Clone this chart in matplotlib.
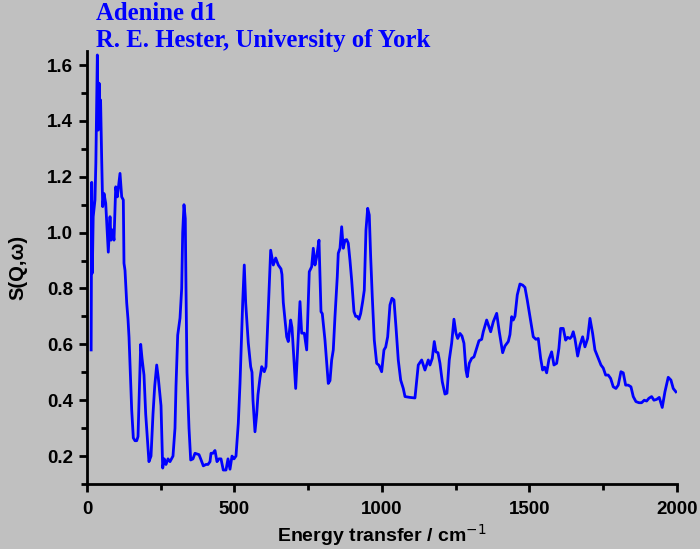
import matplotlib
matplotlib.use('Agg')
import matplotlib.pyplot as plt
from matplotlib.ticker import MultipleLocator

# energy transfer (cm-1) and S(Q,w)
energy = [14, 16, 18, 21, 27, 30, 35, 38, 41, 44, 46, 49.8, 53.2, 57.6, 63.4, 68.8,
          72.2, 78, 81.4, 87.1, 91.5, 97.3, 102.7, 111.9, 117.6, 123.1, 125.4,
          128.8, 134.6, 139, 142.4, 151.5, 157, 162.7, 168.5, 172.9, 182, 186.5,
          193.2, 199, 210, 217, 223.7, 229.5, 236.3, 241.7, 250.9, 256.6, 262,
          267.8, 274.6, 281.4, 291.5, 298.3, 301.7, 307.5, 315.3, 321, 324.4,
          328.8, 333.2, 335.6, 339, 345.8, 351.5, 359.3, 366.1, 379.7, 385.4,
          394.3, 403.4, 410.2, 417, 420.4, 427.1, 433.9, 440.7, 447.5, 454.3,
          462, 471.2, 478, 484.8, 491.6, 498.3, 505.1, 512.9, 518.7, 527.8,
          533.2, 538, 546.8, 554.9, 559.4, 562.7, 569.5, 575.3, 579.7, 586.5,
          592.3, 601.1, 606.8, 613.6, 622.7, 631.6, 639.7, 648.5, 657.7, 661,
          665.5, 677, 682.4, 690.5, 695, 707.5, 722.1, 727.8, 736.6, 744.8,
          753.6, 761.7, 767.2, 772.9, 778.7, 786.5, 793.3, 797.7, 806.8, 818,
          823.8, 829.5, 835, 840.7, 848.5, 851.9, 857.7, 863.4, 868.9, 874.6,
          880.4, 885.8, 891.6, 897.3, 905.1, 910.9, 916.3, 922.1, 927.8, 934.6,
          940.1, 945.8, 951.6, 957, 961.7, 967.2, 974, 982.1, 990, 999, 1006.8,
          1012.6, 1019.4, 1027.2, 1034, 1040.7, 1047.5, 1055.3, 1063.5, 1072.3,
          1078.1, 1094.9, 1111.9, 1123.1, 1134.7, 1145.8, 1157, 1162.8, 1170.6,
          1177.4, 1183.1, 1190, 1196.7, 1204.5, 1213.6, 1220.4, 1228.2, 1236.3,
          1244.1, 1250.9, 1256.7, 1264.5, 1271.2, 1278, 1284.8, 1289.2, 1296,
          1304.2, 1312, 1321.1, 1328.9, 1338.1, 1343.5, 1355, 1368.6, 1377.5,
          1389, 1397.8, 1409.2, 1417, 1428.3, 1434, 1439.8, 1445.2, 1451, 1458.8,
          1467.9, 1477.1, 1484.8, 1492.6, 1501.8, 1513, 1522.1, 1529.9, 1538,
          1544.8, 1551.6, 1558.4, 1566.2, 1575.3, 1583.1, 1592.3, 1600, 1605.8,
          1614.6, 1622.8, 1629.5, 1637.4, 1643.1, 1648.6, 1654.3, 1663.5, 1671.3,
          1680.4, 1688.2, 1697.4, 1705.2, 1714.3, 1722.1, 1733.3, 1742.5, 1750.3,
          1758.4, 1767.2, 1775.3, 1784.2, 1793.3, 1801.1, 1810.3, 1818.1, 1826.2,
          1835, 1844.2, 1852, 1861.1, 1871.3, 1880.4, 1889.3, 1897.4, 1905.2,
          1914.3, 1922.1, 1931.3, 1940.1, 1950.3, 1959.4, 1970.6, 1979.8, 1987.6,
          1996.7]
sqw = [0.58, 1.18, 0.855, 1.057, 1.117, 1.25, 1.636, 1.367, 1.535, 1.38, 1.475, 1.26,
       1.093, 1.14, 1.105, 1.0, 0.93, 1.057, 0.973, 1.01, 0.973, 1.164, 1.128,
       1.212, 1.128, 1.117, 0.89,
       0.865, 0.748, 0.69, 0.626, 0.365, 0.265, 0.255, 0.255, 0.27, 0.60, 0.55,
       0.49, 0.35, 0.18, 0.20, 0.35, 0.45, 0.526, 0.48, 0.38, 0.157, 0.19,
       0.17, 0.19, 0.18, 0.20, 0.30, 0.45, 0.633, 0.694, 0.80, 1.0,
       1.10, 1.05, 0.80, 0.50, 0.30, 0.186, 0.19, 0.21, 0.205, 0.19,
       0.165, 0.17, 0.17, 0.18, 0.21, 0.21, 0.22, 0.18, 0.19, 0.19,
       0.15, 0.15, 0.19, 0.153, 0.20, 0.19, 0.20, 0.317, 0.46, 0.748,
       0.884, 0.748, 0.605, 0.52, 0.50, 0.40, 0.287, 0.35, 0.42, 0.48,
       0.52, 0.502, 0.52, 0.70, 0.937, 0.884, 0.909, 0.884, 0.87, 0.85,
       0.75, 0.627, 0.61, 0.687, 0.66, 0.442, 0.753, 0.64, 0.64, 0.58,
       0.86, 0.878, 0.944, 0.884, 0.914, 0.973, 0.717, 0.71, 0.615, 0.46,
       0.47, 0.544, 0.58, 0.699, 0.842, 0.926, 0.944, 1.021, 0.944, 0.973,
       0.975, 0.962, 0.90, 0.83, 0.717, 0.70, 0.70, 0.69, 0.71, 0.753,
       0.794, 1.009, 1.087, 1.063, 0.914, 0.77, 0.615, 0.532, 0.525, 0.502, 0.58,
       0.59, 0.627, 0.741, 0.765, 0.759, 0.663, 0.544, 0.472, 0.442,
       0.413, 0.41, 0.408, 0.526, 0.544, 0.508, 0.544, 0.526, 0.55,
       0.61, 0.573, 0.57, 0.532, 0.466, 0.422, 0.425, 0.544, 0.604,
       0.69, 0.64, 0.621, 0.639, 0.63, 0.604, 0.508, 0.484, 0.532,
       0.55, 0.555, 0.586, 0.613, 0.618, 0.645, 0.687, 0.645, 0.681,
       0.711, 0.645, 0.57, 0.594, 0.61, 0.635, 0.699, 0.687, 0.701, 0.777,
       0.816, 0.812, 0.804, 0.759, 0.699, 0.627, 0.618, 0.621, 0.55,
       0.508, 0.518, 0.498, 0.546, 0.573, 0.526, 0.532, 0.586, 0.657,
       0.657, 0.615, 0.625, 0.621, 0.628, 0.645, 0.62, 0.558, 0.597,
       0.627, 0.591, 0.621, 0.693, 0.639, 0.58, 0.55, 0.526, 0.515,
       0.49, 0.49, 0.478, 0.448, 0.442, 0.454, 0.502, 0.498, 0.454,
       0.454, 0.448, 0.413, 0.395, 0.391, 0.391, 0.40, 0.397, 0.407,
       0.413, 0.40, 0.403, 0.41, 0.374, 0.43, 0.482, 0.472, 0.442,
       0.43]

bg = '#c0c0c0'
fig = plt.figure(figsize=(7, 5.49), dpi=100, facecolor=bg)
ax = fig.add_axes([0.1243, 0.1184, 0.8427, 0.7886])
ax.set_facecolor(bg)

ax.plot(energy, sqw, color='#0000ff', lw=2.0)

ax.set_xlim(0, 2000)
ax.set_ylim(0.1, 1.65)
ax.xaxis.set_major_locator(MultipleLocator(500))
ax.xaxis.set_minor_locator(MultipleLocator(250))
ax.yaxis.set_major_locator(MultipleLocator(0.2))
ax.yaxis.set_minor_locator(MultipleLocator(0.1))
ax.yaxis.set_major_formatter(matplotlib.ticker.FormatStrFormatter('%.1f'))

for s in ['top', 'right']:
    ax.spines[s].set_visible(False)
for s in ['left', 'bottom']:
    ax.spines[s].set_linewidth(2)
    ax.spines[s].set_color('black')

ax.tick_params(which='major', direction='out', length=6, width=2, labelsize=13.5)
ax.tick_params(axis='x', which='major', pad=6)
ax.tick_params(axis='y', which='major', pad=4)
ax.tick_params(which='minor', direction='out', length=4, width=2)
for lab in ax.get_xticklabels() + ax.get_yticklabels():
    lab.set_fontfamily('Liberation Sans')
    lab.set_fontweight('bold')

ax.set_xlabel('Energy transfer / cm$^{-1}$', fontsize=14, fontweight='bold',
              family='Liberation Sans', labelpad=3)
ax.set_ylabel('S(Q,ω)', fontsize=14.5, fontweight='bold', family='Liberation Sans', labelpad=14)

fig.text(96 / 700, 1 - 14 / 549, 'Adenine d1', color='#0000ff', fontsize=17.8,
         fontweight='bold', family='Liberation Serif', va='center', ha='left')
fig.text(96 / 700, 1 - 41 / 549, 'R. E. Hester, University of York', color='#0000ff',
         fontsize=17.8, fontweight='bold', family='Liberation Serif', va='center', ha='left')

fig.savefig('out.png', dpi=100, facecolor=bg)
